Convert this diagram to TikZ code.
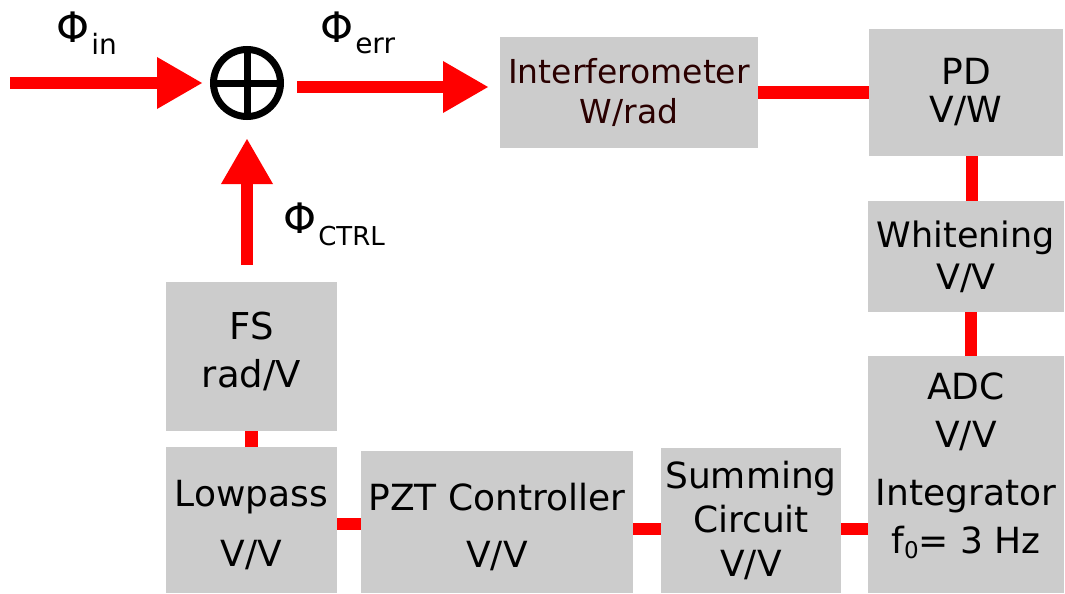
\documentclass[tikz,border=0pt]{standalone}
\usepackage{fontspec}
\setmainfont{DejaVu Sans}
\usetikzlibrary{arrows.meta}
\definecolor{boxgray}{HTML}{CCCCCC}
\definecolor{sigred}{HTML}{FF0000}
\definecolor{ifotext}{HTML}{2A0000}
\newcommand{\fsz}[2]{\fontsize{#1pt}{#2pt}\selectfont}
% invisible struts to move a block's text up or down inside it
\newcommand{\padtop}[1]{\rule{0pt}{#1}}
\newcommand{\padbot}[1]{\rule[-#1]{0pt}{0pt}}
\tikzset{
  block/.style={fill=boxgray, inner sep=0pt, outer sep=0pt, align=center},
  link/.style={draw=sigred, line width=12.5pt},
  sigarrow/.style={draw=sigred, line width=12pt,
    -{Triangle[length=45pt,width=52pt,line width=0pt]}},
  philabel/.style={anchor=base west, inner sep=0pt}
}
\begin{document}
\begin{tikzpicture}[x=1pt,y=-1pt]
\useasboundingbox (0,0) rectangle (1065,594);

% summing junction
\node[circle, draw, line width=7pt, minimum size=67pt, inner sep=0pt, outer sep=3.5pt] (sum) at (247,83) {};
\draw[line width=7pt] (sum.center) ++(0,-33.5) -- ++(0,67);
\draw[line width=7pt] (sum.center) ++(-33.5,0) -- ++(67,0);

% blocks
\node[block, minimum width=258pt, minimum height=111pt, text=ifotext, font=\fsz{33}{40}] (ifo) at (629,92.5) {Interferometer\\W/rad};
\node[block, minimum width=194pt, minimum height=127pt, font=\fsz{36}{38}] (pd) at (966,92.5) {PD\\V/W};
\node[block, minimum width=196pt, minimum height=111pt, font=\fsz{35}{42}] (white) at (966,256.5) {Whitening\\V/V};
\node[block, minimum width=196pt, minimum height=237pt, font=\fsz{36}{48}] (adc) at (966,474.5)
  {ADC\\V/V\\[10pt]Integrator\\f{\fsz{23}{23}\raisebox{-5pt}{0}}= 3 Hz\padbot{23pt}};
\node[block, minimum width=180pt, minimum height=145pt, font=\fsz{36}{44}] (summ) at (751,520.5) {Summing\\Circuit\\V/V};
\node[block, minimum width=272pt, minimum height=142pt, font=\fsz{36}{57}] (pzt) at (497,522) {\padtop{37pt}PZT Controller\\V/V};
\node[block, minimum width=171pt, minimum height=146pt, font=\fsz{36}{60}] (lowp) at (251.5,520) {\padtop{37pt}Lowpass\\V/V};
\node[block, minimum width=171pt, minimum height=149pt, font=\fsz{37}{48}] (fs) at (251.5,356.5) {FS\\rad/V\padbot{14pt}};

% signal labels
\node[philabel] (phiin) at (56,43) {\fsz{42}{42}Φ\hspace{2pt}\raisebox{-12pt}{\fsz{28}{28}in}};
\node[philabel] (phierr) at (320,43) {\fsz{42}{42}Φ\hspace{2pt}\raisebox{-10pt}{\fsz{28}{28}err}};
\node[philabel] (phictrl) at (283,233) {\fsz{42}{42}Φ\hspace{2pt}\raisebox{-12pt}{\fsz{26}{26}CTRL}};

% optical phase arrows
\coordinate (src) at (10,83);
\draw[sigarrow, shorten >=8pt] (src) -- (sum.west);
\draw[sigarrow, shorten <=13pt, shorten >=12pt] (sum.east |- 0,87) -- (ifo.west |- 0,87);
\draw[sigarrow, shorten <=17pt, shorten >=19pt] (sum.south |- fs.north) -- (sum.south);

% electrical links
\draw[link] (ifo.east) -- (ifo.east -| pd.west);
\draw[link] ([xshift=6pt]pd.south) -- ([xshift=6pt]white.north);
\draw[link] ([xshift=5pt]white.south) -- ([xshift=5pt]adc.north);
\draw[link] ([yshift=-8.5pt]summ.east) -- ([yshift=-8.5pt]summ.east -| adc.west);
\draw[link] (pzt.east |- 0,529) -- (summ.west |- 0,529);
\draw[link] (lowp.east |- 0,524) -- (pzt.west |- 0,524);
\draw[link] (lowp.north) -- (fs.south);
\end{tikzpicture}
\end{document}
